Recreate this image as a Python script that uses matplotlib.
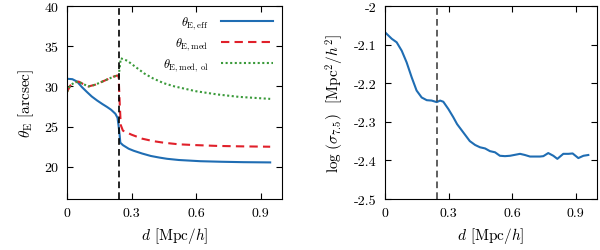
import numpy as np
import matplotlib
matplotlib.use("Agg")
import matplotlib.pyplot as plt

plt.rcParams['font.family'] = ['cmr10', 'DejaVu Serif']
plt.rcParams['mathtext.fontset'] = 'cm'
plt.rcParams['axes.unicode_minus'] = False

# Left panel data
d_eff = [0.0, 0.025, 0.047, 0.07, 0.093, 0.115, 0.14, 0.165, 0.186, 0.205, 0.225, 0.235, 0.24, 0.245,
         0.248, 0.26, 0.287, 0.31, 0.35, 0.39, 0.43, 0.465, 0.52, 0.62, 0.72, 0.82, 0.945]
theta_eff = [30.95, 30.9, 30.6, 29.9, 29.3, 28.75, 28.25, 27.8, 27.45, 27.1, 26.6, 26.1, 25.1, 23.9,
             23.0, 22.7, 22.25, 22.0, 21.65, 21.35, 21.15, 21.0, 20.85, 20.7, 20.63, 20.58, 20.55]

d_med = [0.0, 0.015, 0.035, 0.054, 0.075, 0.1, 0.13, 0.16, 0.19, 0.215, 0.233, 0.24, 0.245, 0.25, 0.26,
         0.3, 0.35, 0.4, 0.45, 0.52, 0.6, 0.7, 0.8, 0.945]
theta_med = [29.3, 30.1, 30.5, 30.6, 30.3, 30.0, 30.2, 30.55, 30.9, 31.2, 31.35, 31.3, 28.0, 25.2, 24.5,
             24.0, 23.5, 23.2, 23.0, 22.8, 22.7, 22.6, 22.55, 22.5]

d_ol = [0.0, 0.015, 0.035, 0.054, 0.075, 0.1, 0.13, 0.16, 0.19, 0.215, 0.233, 0.24, 0.245, 0.25,
        0.28, 0.32, 0.36, 0.4, 0.45, 0.5, 0.6, 0.7, 0.8, 0.945]
theta_ol = [29.3, 30.1, 30.5, 30.6, 30.3, 30.0, 30.2, 30.55, 30.9, 31.2, 31.35, 31.3, 32.3, 33.5,
            33.2, 32.4, 31.6, 31.0, 30.4, 30.0, 29.4, 29.0, 28.7, 28.45]

# Right panel data
d_sig = [0.0, 0.032, 0.055, 0.079, 0.102, 0.126, 0.149, 0.173, 0.197, 0.22, 0.244, 0.26, 0.275, 0.299,
         0.322, 0.34, 0.37, 0.40, 0.425, 0.448, 0.472, 0.495, 0.519, 0.542, 0.566, 0.59, 0.637, 0.66,
         0.684, 0.708, 0.731, 0.747, 0.77, 0.794, 0.813, 0.841, 0.865, 0.885, 0.912, 0.936, 0.959]
log_sig = [-2.068, -2.085, -2.094, -2.116, -2.146, -2.185, -2.219, -2.237, -2.244, -2.245, -2.249,
           -2.245, -2.248, -2.267, -2.288, -2.306, -2.328, -2.35, -2.36, -2.366, -2.369, -2.376,
           -2.379, -2.388, -2.389, -2.388, -2.383, -2.386, -2.39, -2.39, -2.39, -2.389, -2.381,
           -2.388, -2.396, -2.383, -2.383, -2.382, -2.394, -2.388, -2.386]

d_cut = 0.243
xticks = [0, 0.3, 0.6, 0.9]
xticklabels = ['0', '0.3', '0.6', '0.9']
yticks_left = [20, 25, 30, 35, 40]
yticks_right = [-2.5, -2.4, -2.3, -2.2, -2.1, -2.0]
yticklabels_right = ['-2.5', '-2.4', '-2.3', '-2.2', '-2.1', '-2']

blue = '#1f6db3'
red = '#e0202a'
green = '#3a9a3a'

fig = plt.figure(figsize=(6.0, 2.51), dpi=100)
ax1 = fig.add_axes([67/600, 51/251, 215/600, 193/251])
ax2 = fig.add_axes([385/600, 51/251, 212/600, 193/251])

ax1.plot(d_eff, theta_eff, color=blue, lw=1.5, label=r'$\theta_{\rm E,eff}$')
ax1.plot(d_med, theta_med, color=red, lw=1.5, ls=(0, (4, 2.5)), label=r'$\theta_{\rm E,med}$')
ax1.plot(d_ol, theta_ol, color=green, lw=1.5, ls=(0, (1, 1.2)), label=r'$\theta_{\rm E,med,\,ol}$')
ax1.axvline(d_cut, color='black', lw=1.2, ls=(0, (4, 2.5)))
ax1.set_xlim(0, 1.0)
ax1.set_ylim(16, 40)
ax1.set_xticks(xticks)
ax1.set_xticklabels(xticklabels)
ax1.set_yticks(yticks_left)
ax1.set_xlabel(r'$d$ [Mpc/$h$]', fontsize=11, labelpad=4)
ax1.set_ylabel(r'$\theta_{\rm E}$ [arcsec]', fontsize=11, labelpad=6)
leg = ax1.legend(loc='upper right', frameon=False, markerfirst=False, fontsize=9,
                 handlelength=4.2, labelspacing=0.35, borderaxespad=0.3, handletextpad=1.0)

ax2.plot(d_sig, log_sig, color=blue, lw=1.5)
ax2.axvline(d_cut, color='#444444', lw=1.2, ls=(0, (4, 2.5)))
ax2.set_xlim(0, 1.0)
ax2.set_ylim(-2.5, -2.0)
ax2.set_xticks(xticks)
ax2.set_xticklabels(xticklabels)
ax2.set_yticks(yticks_right)
ax2.set_yticklabels(yticklabels_right)
ax2.set_xlabel(r'$d$ [Mpc/$h$]', fontsize=11, labelpad=4)
ax2.set_ylabel(r'$\log\,(\sigma_{7.5})$  [Mpc$^2$/$h^2$]', fontsize=11, labelpad=6)

for ax in (ax1, ax2):
    ax.tick_params(direction='in', top=True, right=True, length=4, width=0.8, labelsize=10, pad=6)
    for s in ax.spines.values():
        s.set_linewidth(0.8)

fig.savefig('out.png', dpi=100)
